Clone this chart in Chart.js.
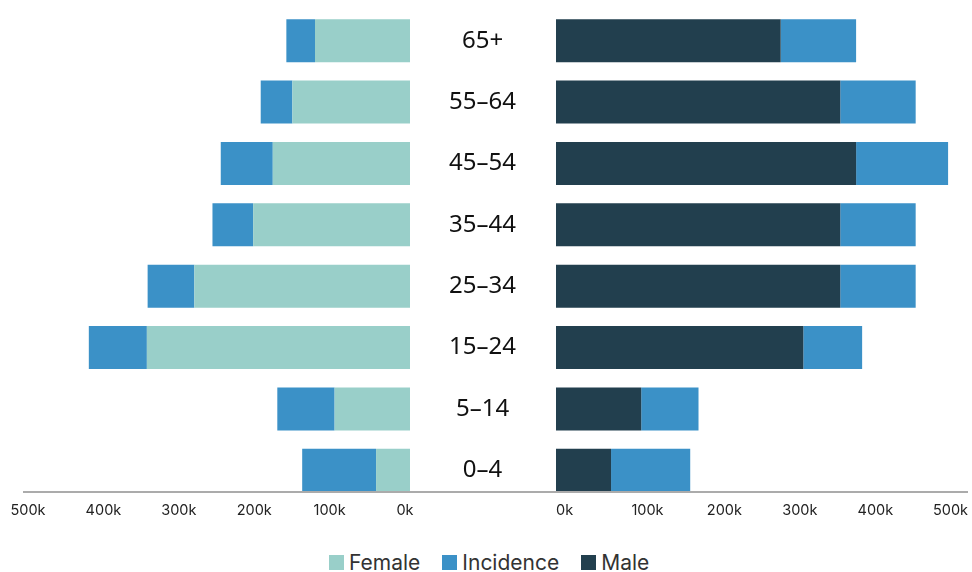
<!DOCTYPE html>
<html>
<head>
<meta charset="utf-8">
<script src="https://cdn.jsdelivr.net/npm/chart.js@4.4.1/dist/chart.umd.min.js"></script>
<style>
  html, body { margin: 0; padding: 0; background: #fff; overflow: hidden; }
  #wrap { position: relative; width: 972px; height: 572px; overflow: hidden; background: #fff; }
  #left { position: absolute; left: 0; top: 0; }
  #right { position: absolute; left: 410px; top: 0; }
  #baseline { position: absolute; left: 23px; top: 491px; width: 945px; height: 2px; background: #ababab; z-index: 2; }
  #legend { position: absolute; left: 329px; top: 550px; display: flex; align-items: center;
            font-family: Inter, "Noto Sans", sans-serif; font-size: 21px; color: #333; }
  .item { display: flex; align-items: center; margin-right: 22px; }
  .swatch { width: 15px; height: 15px; margin-right: 5px; }
</style>
</head>
<body>
<div id="wrap">
  <canvas id="left" width="440" height="532"></canvas>
  <canvas id="right" width="572" height="532"></canvas>
  <div id="baseline"></div>
  <div id="legend"></div>
</div>
<script>
// Age groups, top to bottom
const ageGroups = ['65+', '55–64', '45–54', '35–44', '25–34', '15–24', '5–14', '0–4'];

// Female side (drawn leftwards)
const female          = [126000, 156000, 182000, 208000, 286000, 349000, 100000, 45000];
const femaleIncidence = [ 38000,  42000,  69000,  54000,  62000,  77000,  76000, 98000];

// Male side (drawn rightwards)
const male            = [298000, 377000, 398000, 377000, 377000, 328000, 113000, 73000];
const maleIncidence   = [100000, 100000, 122000, 100000, 100000,  78000,  76000, 105000];

// Axis ticks
const tickValues = [0, 100000, 200000, 300000, 400000, 500000];

const COLORS = { female: '#99cfc9', incidence: '#3b91c7', male: '#223f4e' };
const legendItems = [
  { label: 'Female', color: COLORS.female },
  { label: 'Incidence', color: COLORS.incidence },
  { label: 'Male', color: COLORS.male }
];

const tickFont = { family: 'Inter, "Noto Sans", sans-serif', size: 14.5 };
const fmtK = v => (v / 1000) + 'k';

function xAxis(extra) {
  return Object.assign({
    type: 'linear',
    stacked: true,
    min: 0,
    bounds: 'data',
    grid: { display: false, drawTicks: false },
    border: { display: false },
    afterBuildTicks: s => { s.ticks = tickValues.map(v => ({ value: v })); },
    afterFit: s => { s.height = 31; },
    ticks: {
      font: tickFont, color: '#222', padding: 1,
      autoSkip: false, maxRotation: 0, minRotation: 0,
      callback: v => fmtK(v)
    }
  }, extra);
}

const common = {
  responsive: false,
  devicePixelRatio: 1,
  animation: false,
  indexAxis: 'y',
  plugins: { legend: { display: false }, tooltip: { enabled: false } }
};

// Left: female + incidence, growing to the left
new Chart(document.getElementById('left'), {
  type: 'bar',
  data: {
    labels: ageGroups,
    datasets: [
      { label: 'Female', data: female, backgroundColor: COLORS.female, barPercentage: 0.7, categoryPercentage: 1 },
      { label: 'Incidence', data: femaleIncidence, backgroundColor: COLORS.incidence, barPercentage: 0.7, categoryPercentage: 1 }
    ]
  },
  options: Object.assign({}, common, {
    layout: { padding: { left: 23, right: 30, top: 10, bottom: 0 } },
    scales: {
      x: (() => {
        const a = xAxis({ reverse: true, max: 513300 });
        a.ticks.labelOffset = -5;
        a.ticks.align = 'center';
        return a;
      })(),
      y: { type: 'category', stacked: true, display: false }
    }
  })
});

// Right: male + incidence, age labels on its left axis
new Chart(document.getElementById('right'), {
  type: 'bar',
  data: {
    labels: ageGroups,
    datasets: [
      { label: 'Male', data: male, backgroundColor: COLORS.male, barPercentage: 0.7, categoryPercentage: 1 },
      { label: 'Incidence', data: maleIncidence, backgroundColor: COLORS.incidence, barPercentage: 0.7, categoryPercentage: 1 }
    ]
  },
  options: Object.assign({}, common, {
    layout: { padding: { left: 0, right: 14, top: 10, bottom: 0 } },
    scales: {
      x: (() => {
        const a = xAxis({ max: 546400 });
        a.ticks.align = 'start';
        return a;
      })(),
      y: {
        type: 'category',
        stacked: true,
        position: 'left',
        grid: { display: false, drawTicks: false },
        border: { display: false },
        afterFit: s => { s.width = 146; s.paddingTop = 0; s.paddingBottom = 0; },
        ticks: {
          font: { family: '"Noto Sans", sans-serif', size: 24 },
          color: '#111',
          crossAlign: 'center',
          padding: 40
        }
      }
    }
  })
});

// Legend
const legend = document.getElementById('legend');
legendItems.forEach(it => {
  const d = document.createElement('div');
  d.className = 'item';
  const sw = document.createElement('span');
  sw.className = 'swatch';
  sw.style.background = it.color;
  const t = document.createElement('span');
  t.textContent = it.label;
  d.appendChild(sw);
  d.appendChild(t);
  legend.appendChild(d);
});
</script>
</body>
</html>
